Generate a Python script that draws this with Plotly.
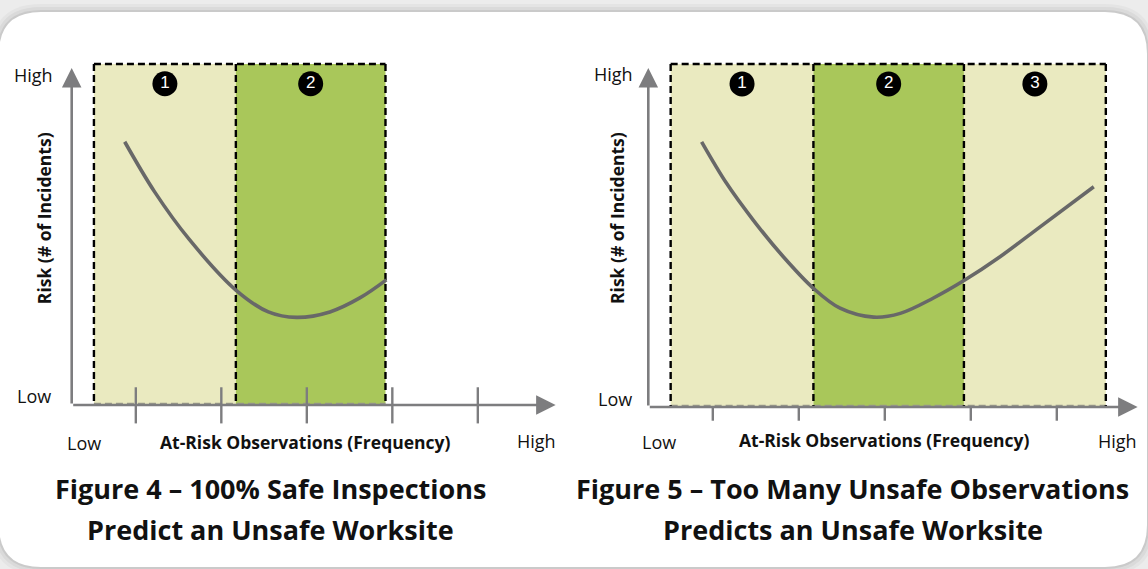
import plotly.graph_objects as go

W, H = 1148, 569

# ---------------- data ----------------
# Figure 4 (left)
zone_edges_4 = [0.26, 1.92, 3.67]
zone_labels_4 = ["1", "2"]
zone_kinds_4 = ["light", "green"]
curve4_x = [0.62, 0.97, 1.38, 1.92, 2.30, 2.63, 3.02, 3.37, 3.68]
curve4_y = [7.72, 6.25, 4.84, 3.37, 2.73, 2.57, 2.73, 3.14, 3.67]
ticks_4 = [0.75, 1.75, 2.75, 3.75, 4.75]

# Figure 5 (right)
zone_edges_5 = [0.26, 1.92, 3.67, 5.32]
zone_labels_5 = ["1", "2", "3"]
zone_kinds_5 = ["light", "green", "light"]
curve5_x = [0.62, 0.91, 1.22, 1.57, 1.92, 2.23, 2.62, 2.93, 3.31, 3.68, 4.09, 4.56, 5.18]
curve5_y = [7.73, 6.52, 5.45, 4.38, 3.46, 2.88, 2.62, 2.73, 3.17, 3.70, 4.38, 5.26, 6.42]
ticks_5 = [0.75, 1.75, 2.75, 3.75, 4.75]

y_axis_title = "Risk (# of Incidents)"
x_axis_title = "At-Risk Observations (Frequency)"
low_label, high_label = "Low", "High"
title4 = ["Figure 4 – 100% Safe Inspections", "Predict an Unsafe Worksite"]
title5 = ["Figure 5 – Too Many Unsafe Observations", "Predicts an Unsafe Worksite"]

# ---------------- styles ----------------
COL = {"light": "#EAEAC0", "green": "#A9C75A"}
AXIS_COL = "#7d7d7f"
CURVE_COL = "#686868"
FONT = "Open Sans"
TXT = "#111111"

# pixel anchors for each panel
P4 = dict(x0=71.7, ux=85.5, y0=405.0, uy=34.1, px=(0, 574))
P5 = dict(x0=648.3, ux=86.0, y0=407.0, uy=34.3, px=(574, 1148))

fig = go.Figure()

def axis_cfg(p):
    xr = [(p["px"][0] - p["x0"]) / p["ux"], (p["px"][1] - p["x0"]) / p["ux"]]
    yr = [(p["y0"] - H) / p["uy"], p["y0"] / p["uy"]]
    xd = [p["px"][0] / W, p["px"][1] / W]
    common = dict(visible=False, fixedrange=True)
    return dict(range=xr, domain=xd, **common), dict(range=yr, domain=[0, 1], **common)

xa4, ya4 = axis_cfg(P4)
xa5, ya5 = axis_cfg(P5)

shapes = []
annotations = []

def rounded(x0, y0, x1, y1, r):
    def X(v): return v / W
    def Y(v): return 1 - v / H
    return (f"M {X(x0 + r)},{Y(y0)} L {X(x1 - r)},{Y(y0)} Q {X(x1)},{Y(y0)} {X(x1)},{Y(y0 + r)} "
            f"L {X(x1)},{Y(y1 - r)} Q {X(x1)},{Y(y1)} {X(x1 - r)},{Y(y1)} "
            f"L {X(x0 + r)},{Y(y1)} Q {X(x0)},{Y(y1)} {X(x0)},{Y(y1 - r)} "
            f"L {X(x0)},{Y(y0 + r)} Q {X(x0)},{Y(y0)} {X(x0 + r)},{Y(y0)} Z")

for off, a in [(8, 0.03), (5, 0.045), (2, 0.07)]:
    shapes.append(dict(type="path", xref="paper", yref="paper", layer="below",
                       path=rounded(-1 - off, 12 - off, 1147 + off, 567 + off, 42 + off),
                       fillcolor=f"rgba(0,0,0,{a})", line=dict(width=0)))
shapes.append(dict(type="path", xref="paper", yref="paper", layer="below",
                   path=rounded(-1, 12, 1147, 567, 42), fillcolor="white", line=dict(width=0)))

DASH = dict(color="#000000", width=2.4, dash="7px,4px")


def build(xr, yr, edges, labels, kinds, cx, cy, ticks, tick_lo, tick_hi, titles, xtip, ytip, lab):
    # zones (fill)
    for i, k in enumerate(kinds):
        shapes.append(dict(type="rect", xref=xr, yref=yr, x0=edges[i], x1=edges[i + 1], y0=0, y1=10,
                           fillcolor=COL[k], line=dict(width=0), layer="below"))
    # dashed outline: top, bottom, and each boundary once
    shapes.append(dict(type="line", xref=xr, yref=yr, x0=edges[0], x1=edges[-1], y0=10, y1=10,
                       line=DASH, layer="below"))
    shapes.append(dict(type="line", xref=xr, yref=yr, x0=edges[0], x1=edges[-1], y0=0.04, y1=0.04,
                       line=dict(color="#9a9a8a", width=1.6, dash="7px,4px"), layer="below"))
    for e in edges:
        shapes.append(dict(type="line", xref=xr, yref=yr, x0=e, x1=e, y0=10, y1=0,
                           line=DASH, layer="below"))
    # axes with arrows
    annotations.append(dict(xref=xr, yref=yr, axref=xr, ayref=yr, x=xtip, y=0, ax=0, ay=0, text="",
                            showarrow=True, arrowhead=2, arrowsize=1.5, arrowwidth=2.6,
                            arrowcolor=AXIS_COL))
    annotations.append(dict(xref=xr, yref=yr, axref=xr, ayref=yr, x=0, y=ytip, ax=0, ay=0, text="",
                            showarrow=True, arrowhead=2, arrowsize=1.5, arrowwidth=2.6,
                            arrowcolor=AXIS_COL))
    # ticks
    tx, ty = [], []
    for t in ticks:
        tx += [t, t, None]
        ty += [tick_lo, tick_hi, None]
    fig.add_trace(go.Scatter(x=tx, y=ty, mode="lines", xaxis=xr, yaxis=yr, hoverinfo="skip",
                             line=dict(color=AXIS_COL, width=2.4), showlegend=False))
    # curve
    fig.add_trace(go.Scatter(x=cx, y=cy, mode="lines", xaxis=xr, yaxis=yr,
                             line=dict(color=CURVE_COL, width=3.6, shape="spline", smoothing=1.0),
                             showlegend=False))
    # numbered circles
    centers = [(edges[i] + edges[i + 1]) / 2 for i in range(len(labels))]
    fig.add_trace(go.Scatter(x=centers, y=[9.42] * len(centers), mode="markers+text", text=labels,
                             textposition="middle center", xaxis=xr, yaxis=yr,
                             marker=dict(color="#000000", size=25, symbol="circle"),
                             textfont=dict(color="white", size=17, family="Liberation Sans"),
                             showlegend=False))
    # texts
    f18 = dict(family=FONT, size=18, color=TXT)
    annotations.append(dict(xref=xr, yref=yr, x=lab["hy"][0], y=lab["hy"][1], text=high_label,
                            showarrow=False, xanchor="right", font=f18))
    annotations.append(dict(xref=xr, yref=yr, x=lab["ly"][0], y=lab["ly"][1], text=low_label,
                            showarrow=False, xanchor="right", font=f18))
    annotations.append(dict(xref=xr, yref=yr, x=lab["lx"][0], y=lab["lx"][1], text=low_label,
                            showarrow=False, font=f18))
    annotations.append(dict(xref=xr, yref=yr, x=lab["hx"][0], y=lab["hx"][1], text=high_label,
                            showarrow=False, font=f18))
    annotations.append(dict(xref=xr, yref=yr, x=lab["xt"][0], y=lab["xt"][1],
                            text=f"<b>{x_axis_title}</b>", showarrow=False,
                            font=dict(family=FONT, size=17.5, color=TXT)))
    annotations.append(dict(xref=xr, yref=yr, x=lab["yt"][0], y=lab["yt"][1],
                            text=f"<b>{y_axis_title}</b>", showarrow=False, textangle=-90,
                            font=dict(family=FONT, size=17.5, color=TXT)))
    for j, t in enumerate(titles):
        annotations.append(dict(xref=xr, yref=yr, x=lab["tt"][0], y=lab["tt"][1 + j],
                                text=f"<b>{t}</b>", showarrow=False,
                                font=dict(family=FONT, size=27, color=TXT)))


build("x", "y", zone_edges_4, zone_labels_4, zone_kinds_4, curve4_x, curve4_y, ticks_4,
      -0.54, 0.52, title4, 5.66, 9.88,
      dict(hy=(-0.2, 9.68), ly=(-0.22, 0.26), lx=(0.144, -1.1), hx=(5.44, -1.06),
           xt=(2.73, -1.08), yt=(-0.324, 5.48), tt=(2.32, -2.46, -3.64)))
build("x2", "y2", zone_edges_5, zone_labels_5, zone_kinds_5, curve5_x, curve5_y, ticks_5,
      -0.40, 0.0, title5, 5.69, 9.88,
      dict(hy=(-0.16, 9.71), ly=(-0.17, 0.23), lx=(0.12, -1.03), hx=(5.45, -0.99),
           xt=(2.75, -0.97), yt=(-0.364, 5.51), tt=(2.38, -2.39, -3.56)))

fig.update_layout(
    width=W, height=H, margin=dict(l=0, r=0, t=0, b=0),
    paper_bgcolor="#ececec", plot_bgcolor="rgba(0,0,0,0)",
    xaxis=xa4, yaxis=ya4,
    xaxis2={**xa5, "anchor": "y2"}, yaxis2={**ya5, "anchor": "x2"},
    shapes=shapes, annotations=annotations, showlegend=False,
    font=dict(family=FONT),
)
fig.write_html("out.html", config={"displayModeBar": False, "staticPlot": True},
               post_script="document.body.style.margin='0px';document.body.style.overflow='hidden';")
